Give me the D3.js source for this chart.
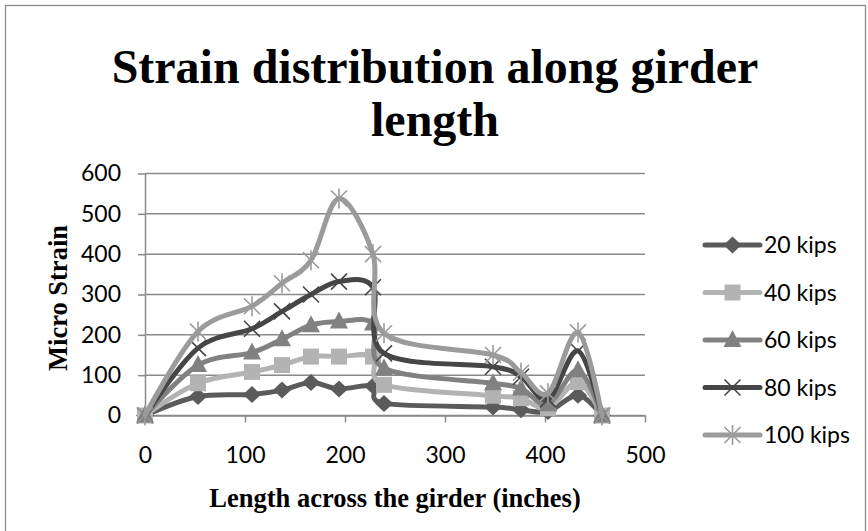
<!DOCTYPE html>
<html>
<head>
<meta charset="utf-8">
<script src="https://cdn.jsdelivr.net/npm/d3@7"></script>
<style>
  html, body { margin: 0; padding: 0; background: #fff; }
  svg { display: block; }
</style>
</head>
<body>
<svg id="chart" width="868" height="531"></svg>
<script>
// Measurement positions along the girder (inches)
const positions = [0, 53, 107, 137, 166, 194, 228, 239, 348, 376, 403, 433, 457];

// Micro strain readings per load step
const kips20  = [0, 47, 52, 63, 82, 66, 73, 30, 21, 14, 10, 50, 0];
const kips40  = [0, 80, 108, 125, 146, 146, 146, 76, 49, 43, 18, 83, 0];
const kips60  = [0, 125, 156, 189, 224, 233, 228, 117, 80, 67, 28, 112, 0];
const kips80  = [0, 167, 215, 258, 300, 332, 318, 154, 121, 96, 40, 160, 0];
const kips100 = [0, 208, 271, 328, 385, 538, 400, 204, 150, 106, 55, 206, 0];

const seriesNames = ["20 kips", "40 kips", "60 kips", "80 kips", "100 kips"];
const seriesValues = [kips20, kips40, kips60, kips80, kips100];

const xTicks = [0, 100, 200, 300, 400, 500];
const yTicks = [0, 100, 200, 300, 400, 500, 600];

const titleLines = ["Strain distribution along girder", "length"];
const xTitle = "Length across the girder (inches)";
const yTitle = "Micro Strain";

// Styling
const colors = ["#5b5b5b", "#b3b3b3", "#818181", "#464646", "#9b9b9b"];
const markerKinds = ["diamond", "square", "triangle", "cross", "star"];
const serifFont = "'Liberation Serif', 'Times New Roman', serif";
const labelFont = "Lato, 'Open Sans', sans-serif";
const gridColor = "#8a8a8a";

const svg = d3.select("#chart");

svg.append("rect")
  .attr("width", 868).attr("height", 531).attr("fill", "#fff");

// Outer chart frame
svg.append("rect")
  .attr("x", 5.5).attr("y", 5.5)
  .attr("width", 860).attr("height", 540)
  .attr("fill", "none").attr("stroke", "#8c8c8c").attr("stroke-width", 1.3);

const plot = { left: 145, right: 645, top: 173.5, bottom: 415.5 };

const x = d3.scaleLinear().domain([0, 500]).range([plot.left, plot.right]);
const y = d3.scaleLinear().domain([0, 600]).range([plot.bottom, plot.top]);

// Title
const title = svg.append("text")
  .attr("text-anchor", "middle")
  .attr("font-family", serifFont)
  .attr("font-weight", "bold")
  .attr("font-size", 48)
  .attr("fill", "#000");
titleLines.forEach((t, i) => {
  title.append("tspan").attr("x", 435).attr("y", 83 + i * 53).text(t);
});

// Horizontal gridlines
svg.append("g")
  .selectAll("line")
  .data(yTicks)
  .join("line")
  .attr("x1", plot.left).attr("x2", plot.right)
  .attr("y1", d => y(d)).attr("y2", d => y(d))
  .attr("stroke", gridColor).attr("stroke-width", 1.5);

// Y axis
const yAxis = svg.append("g")
  .attr("transform", `translate(${plot.left},0)`)
  .call(d3.axisLeft(y).tickValues(yTicks).tickSize(7).tickPadding(17).tickSizeOuter(0));
yAxis.select(".domain").attr("stroke", gridColor).attr("stroke-width", 1.5);
yAxis.selectAll(".tick line").attr("stroke", gridColor).attr("stroke-width", 1.5);
yAxis.selectAll(".tick text")
  .attr("font-family", labelFont).attr("font-size", 23).attr("fill", "#000");

// X axis
const xAxis = svg.append("g")
  .attr("transform", `translate(0,${plot.bottom})`)
  .call(d3.axisBottom(x).tickValues(xTicks).tickSize(7).tickPadding(24).tickSizeOuter(0));
xAxis.select(".domain").attr("stroke", gridColor).attr("stroke-width", 1.5);
xAxis.selectAll(".tick line").attr("stroke", gridColor).attr("stroke-width", 1.5);
xAxis.selectAll(".tick text")
  .attr("font-family", labelFont).attr("font-size", 23).attr("fill", "#000");

// Axis titles
svg.append("text")
  .attr("x", (plot.left + plot.right) / 2).attr("y", 507)
  .attr("text-anchor", "middle")
  .attr("font-family", serifFont).attr("font-weight", "bold").attr("font-size", 26.5)
  .text(xTitle);

svg.append("text")
  .attr("transform", "translate(67,298) rotate(-90)")
  .attr("text-anchor", "middle")
  .attr("font-family", serifFont).attr("font-weight", "bold").attr("font-size", 26.5)
  .text(yTitle);

// Marker drawing
function drawMarker(g, kind, color) {
  if (kind === "diamond") {
    g.append("path").attr("d", "M0,-8.5L9,0L0,8.5L-9,0Z").attr("fill", color);
  } else if (kind === "square") {
    g.append("rect").attr("x", -8).attr("y", -8).attr("width", 16).attr("height", 16).attr("fill", color);
  } else if (kind === "triangle") {
    g.append("path").attr("d", "M0,-10L9,7L-9,7Z").attr("fill", color);
  } else if (kind === "cross") {
    g.append("path").attr("d", "M-8,-8L8,8M-8,8L8,-8")
      .attr("stroke", color).attr("stroke-width", 1.6).attr("fill", "none");
  } else if (kind === "star") {
    g.append("path").attr("d", "M-8,-8L8,8M-8,8L8,-8M0,-10L0,10")
      .attr("stroke", color).attr("stroke-width", 1.6).attr("fill", "none");
  }
}

const line = d3.line()
  .x(d => x(d[0]))
  .y(d => y(d[1]))
  .curve(d3.curveCardinal.tension(0));

seriesValues.forEach((vals, si) => {
  const pts = positions.map((p, i) => [p, vals[i]]);
  const g = svg.append("g");
  g.append("path")
    .attr("d", line(pts))
    .attr("fill", "none")
    .attr("stroke", colors[si])
    .attr("stroke-width", 5)
    .attr("stroke-linejoin", "round")
    .attr("stroke-linecap", "round");
  pts.forEach(pt => {
    const m = g.append("g").attr("transform", `translate(${x(pt[0])},${y(pt[1])})`);
    drawMarker(m, markerKinds[si], colors[si]);
  });
});

// Legend
const legend = svg.append("g");
seriesNames.forEach((name, si) => {
  const cy = 245 + si * 47.5;
  const row = legend.append("g").attr("transform", `translate(0,${cy})`);
  row.append("line")
    .attr("x1", 705).attr("x2", 760).attr("y1", 0).attr("y2", 0)
    .attr("stroke", colors[si]).attr("stroke-width", 5).attr("stroke-linecap", "round");
  drawMarker(row.append("g").attr("transform", "translate(732.5,0)"), markerKinds[si], colors[si]);
  row.append("text")
    .attr("x", 764).attr("y", 0).attr("dy", "0.35em")
    .attr("font-family", labelFont).attr("font-size", 23).attr("fill", "#000")
    .text(name);
});
</script>
</body>
</html>
